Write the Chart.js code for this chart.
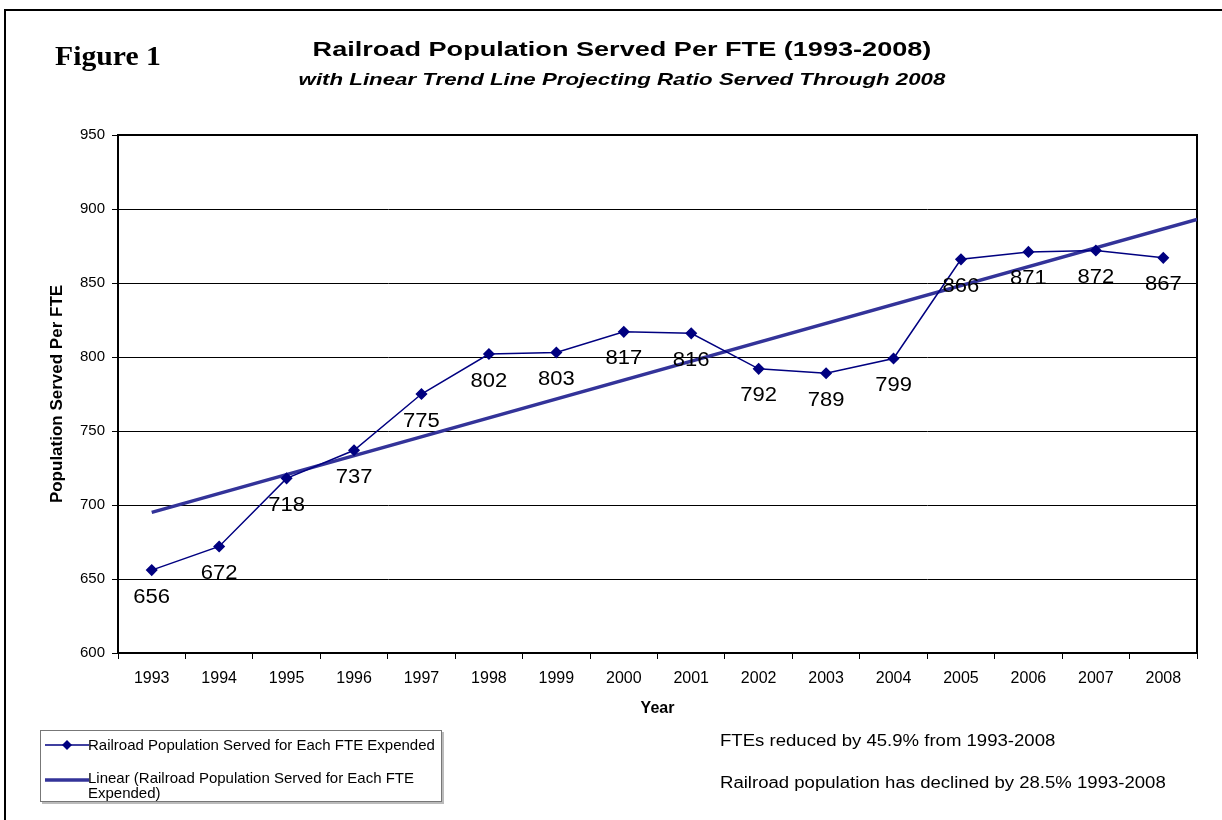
<!DOCTYPE html>
<html>
<head>
<meta charset="utf-8">
<script src="https://cdn.jsdelivr.net/npm/chart.js@4.4.1/dist/chart.umd.min.js"></script>
<style>
  html, body { margin: 0; padding: 0; background: #fff; }
  body { width: 1222px; height: 820px; position: relative; overflow: hidden; font-family: "Liberation Sans", Arial, sans-serif; }
  #frame { position: absolute; left: 4px; top: 9px; width: 1300px; height: 900px; border-top: 2px solid #000; border-left: 2px solid #000; }
  #chartBox { position: absolute; left: 0; top: 0; width: 1222px; height: 820px; }
  .fig { position: absolute; left: 55px; top: 41px; font-family: "Liberation Serif", "Times New Roman", serif; font-weight: bold; font-size: 27px; transform: scaleX(1.1); transform-origin: left center; }
  .title { position: absolute; left: 222px; width: 800px; text-align: center; font-weight: bold; transform-origin: 50% 50%; }
  .t1 { top: 37px; font-size: 21px; transform: scaleX(1.29); }
  .t2 { top: 70px; font-size: 17px; font-style: italic; transform: scaleX(1.31); }
  .legend { position: absolute; left: 40px; top: 730px; width: 400px; height: 70px; border: 1px solid #777; box-shadow: 2px 2px 0 #bbb; font-size: 15px; line-height: 15px; }
  .legend .item { position: absolute; left: 4px; }
  .legend .txt { position: absolute; left: 47px; width: 350px; }
  .note { position: absolute; left: 720px; font-size: 16px; transform: scaleX(1.16); transform-origin: left top; }
</style>
</head>
<body>
<div id="frame"></div>
<div id="chartBox"><canvas id="popChart"></canvas></div>
<div class="fig">Figure 1</div>
<div class="title t1">Railroad Population Served Per FTE (1993-2008)</div>
<div class="title t2">with Linear Trend Line Projecting Ratio Served Through 2008</div>
<div class="legend">
  <div class="item" style="top:7px;">
    <svg width="44" height="14"><line x1="0" y1="7" x2="44" y2="7" stroke="#000080" stroke-width="1.5"/><polygon points="22,2 27,7 22,12 17,7" fill="#000080"/></svg>
  </div>
  <div class="txt" style="top:6px;">Railroad Population Served for Each FTE Expended</div>
  <div class="item" style="top:41px;">
    <svg width="44" height="10"><line x1="0" y1="5" x2="44" y2="5" stroke="#333399" stroke-width="3.5"/></svg>
  </div>
  <div class="txt" style="top:39px;">Linear (Railroad Population Served for Each FTE Expended)</div>
</div>
<div class="note" style="top:732px;">FTEs reduced by 45.9% from 1993-2008</div>
<div class="note" style="top:774px;">Railroad population has declined by 28.5% 1993-2008</div>

<script>
// values
const years = [1993, 1994, 1995, 1996, 1997, 1998, 1999, 2000, 2001, 2002, 2003, 2004, 2005, 2006, 2007, 2008];
const served = [656, 672, 718, 737, 775, 802, 803, 817, 816, 792, 789, 799, 866, 871, 872, 867];
// linear trend line end points (as drawn)
const trendYears = [1993, 2008.5];
const trendValues = [695, 893];

const fontFamily = "'Liberation Sans', Arial, sans-serif";

// draws the numbers under each point
const pointLabels = {
  id: "pointLabels",
  afterDatasetsDraw(chart) {
    const ctx = chart.ctx;
    const meta = chart.getDatasetMeta(0);
    ctx.save();
    ctx.font = "20px " + fontFamily;
    ctx.fillStyle = "#000";
    ctx.textAlign = "center";
    ctx.textBaseline = "middle";
    meta.data.forEach((pt, i) => {
      ctx.save();
      ctx.translate(pt.x, pt.y + 27);
      ctx.scale(1.1, 1);
      ctx.fillText(String(served[i]), 0, 0);
      ctx.restore();
    });
    ctx.restore();
  },
};

// black box round the plot area
const plotBorder = {
  id: "plotBorder",
  beforeDatasetsDraw(chart) {
    const { ctx, chartArea: a } = chart;
    ctx.save();
    ctx.strokeStyle = "#000";
    ctx.lineWidth = 2;
    ctx.strokeRect(a.left, a.top, a.right - a.left, a.bottom - a.top);
    ctx.restore();
  },
};

const ctx = document.getElementById("popChart").getContext("2d");
new Chart(ctx, {
  type: "line",
  data: {
    datasets: [
      {
        label: "Railroad Population Served for Each FTE Expended",
        data: years.map((y, i) => ({ x: y, y: served[i] })),
        borderColor: "#000080",
        backgroundColor: "#000080",
        borderWidth: 1.5,
        pointStyle: "rectRot",
        pointRadius: 5,
        tension: 0,
      },
      {
        label: "Linear (Railroad Population Served for Each FTE Expended)",
        data: trendYears.map((y, i) => ({ x: y, y: trendValues[i] })),
        borderColor: "#333399",
        borderWidth: 3.5,
        pointRadius: 0,
        tension: 0,
      },
    ],
  },
  options: {
    responsive: true,
    maintainAspectRatio: false,
    animation: false,
    layout: { padding: { left: 40, top: 135, right: 25, bottom: 97 } },
    plugins: {
      legend: { display: false },
      tooltip: { enabled: false },
    },
    scales: {
      x: {
        type: "linear",
        min: 1992.5,
        max: 2008.5,
        afterBuildTicks: (s) => { s.ticks = years.map((v) => ({ value: v })); },
        afterFit: (s) => { s.height = 70; },
        grid: { offset: true, drawOnChartArea: false, color: "#000", tickLength: 6, tickColor: "#000" },
        border: { color: "#000", width: 1 },
        ticks: { color: "#000", font: { family: fontFamily, size: 16 }, padding: 10, maxRotation: 0, callback: (v) => String(v) },
        title: { display: true, text: "Year", color: "#000", font: { family: fontFamily, size: 16, weight: "bold" }, padding: { top: 0, bottom: 5 } },
      },
      y: {
        min: 600,
        max: 950,
        afterFit: (s) => { s.width = 78; },
        grid: { color: "#000", lineWidth: 1, tickLength: 6, tickColor: "#000" },
        border: { color: "#000", width: 1 },
        ticks: { stepSize: 50, color: "#000", font: { family: fontFamily, size: 15 }, padding: 7 },
        title: { display: true, text: "Population Served Per FTE", color: "#000", font: { family: fontFamily, size: 17, weight: "bold" }, padding: { top: 7, bottom: 0 } },
      },
    },
  },
  plugins: [plotBorder, pointLabels],
});
</script>
</body>
</html>
